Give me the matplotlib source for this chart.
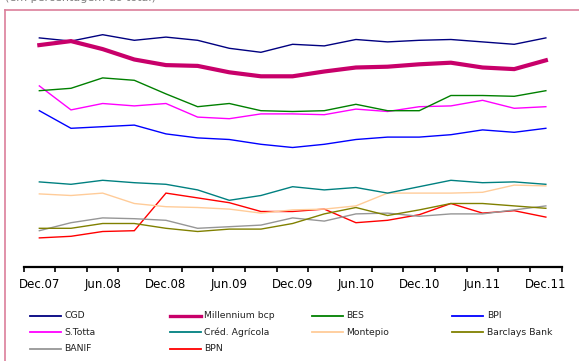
import numpy as np
import matplotlib
matplotlib.use("Agg")
import matplotlib.pyplot as plt
from matplotlib.lines import Line2D

quarters = ["Dec.07", "Mar.08", "Jun.08", "Sep.08", "Dec.08", "Mar.09", "Jun.09", "Sep.09",
            "Dec.09", "Mar.10", "Jun.10", "Sep.10", "Dec.10", "Mar.11", "Jun.11", "Sep.11", "Dec.11"]

cgd = [28.6, 28.2, 29.0, 28.3, 28.7, 28.3, 27.3, 26.8, 27.8, 27.6, 28.4, 28.1, 28.3, 28.4, 28.1, 27.8, 28.6]
millennium = [27.7, 28.2, 27.2, 25.9, 25.2, 25.1, 24.3, 23.8, 23.8, 24.4, 24.9, 25.0, 25.3, 25.5, 24.9, 24.7, 25.8]
bes = [22.0, 22.3, 23.6, 23.3, 21.6, 20.0, 20.4, 19.5, 19.4, 19.5, 20.3, 19.5, 19.5, 21.4, 21.4, 21.3, 22.0]
bpi = [19.5, 17.3, 17.5, 17.7, 16.6, 16.1, 15.9, 15.3, 14.9, 15.3, 15.9, 16.2, 16.2, 16.5, 17.1, 16.8, 17.3]
stotta = [22.6, 19.6, 20.4, 20.1, 20.4, 18.7, 18.5, 19.1, 19.1, 19.0, 19.7, 19.4, 20.0, 20.1, 20.8, 19.8, 20.0]
cred_agricola = [10.6, 10.3, 10.8, 10.5, 10.3, 9.6, 8.3, 8.9, 10.0, 9.6, 9.9, 9.2, 10.0, 10.8, 10.5, 10.6, 10.3]
montepio = [9.1, 8.9, 9.2, 7.9, 7.5, 7.4, 7.2, 6.7, 7.1, 7.2, 7.6, 9.2, 9.2, 9.2, 9.3, 10.2, 10.1]
barclays = [4.8, 4.8, 5.4, 5.4, 4.8, 4.4, 4.7, 4.7, 5.4, 6.6, 7.4, 6.4, 7.1, 7.9, 7.9, 7.6, 7.3]
banif = [4.5, 5.5, 6.1, 6.0, 5.8, 4.8, 5.0, 5.2, 6.1, 5.7, 6.6, 6.7, 6.3, 6.6, 6.6, 7.1, 7.6]
bpn = [3.6, 3.8, 4.4, 4.5, 9.2, 8.6, 8.0, 6.9, 6.9, 7.2, 5.5, 5.8, 6.5, 7.9, 6.7, 7.0, 6.2]

names = ["CGD", "Millennium bcp", "BES", "BPI", "S.Totta", "Créd. Agrícola",
         "Montepio", "Barclays Bank", "BANIF", "BPN"]
series = [cgd, millennium, bes, bpi, stotta, cred_agricola, montepio, barclays, banif, bpn]
colors = ["#000080", "#C8006A", "#008000", "#0000FF", "#FF00FF", "#008080",
          "#FFCC99", "#808000", "#969696", "#FF0000"]
widths = [1.0, 3.0, 1.0, 1.0, 1.0, 1.0, 1.0, 1.0, 1.0, 1.0]

W, H = 579, 361
fig = plt.figure(figsize=(W / 100, H / 100), dpi=100)
plt.rcParams['font.family'] = ['DejaVu Sans']

# frame (only the top and left edges fall inside the picture)
frame_col = "#DB7F9B"
fx, fy = 4.7 / W, 1 - 10.3 / H
fig.add_artist(Line2D([fx, fx], [0, fy], transform=fig.transFigure, color=frame_col, linewidth=1.2))
fig.add_artist(Line2D([fx, 1.0], [fy, fy], transform=fig.transFigure, color=frame_col, linewidth=1.2))
fig.text(5 / W, 1 - 0.8 / H, "(em percentagem do total)", color="#808080", fontsize=8,
         va="baseline", ha="left")

ax = fig.add_axes([23.5 / W, (H - 266.7) / H, (561.7 - 23.5) / W, 240 / H])
x = np.arange(len(quarters))
order = [9, 8, 7, 6, 5, 4, 3, 2, 0, 1]
for i in order:
    ax.plot(x, series[i], color=colors[i], linewidth=widths[i], solid_joinstyle="miter",
            zorder=3 if i == 1 else 2)

ax.set_xlim(-0.5, len(quarters) - 0.5)
ax.set_ylim(0, 30)
ax.set_yticks([])
for s in ["top", "right", "left"]:
    ax.spines[s].set_visible(False)
ax.spines["bottom"].set_linewidth(1.6)
ax.spines["bottom"].set_color("black")
ax.set_xticks(x[::2])
ax.set_xticklabels(quarters[::2], fontsize=8.5)
ax.set_xticks(np.arange(-0.5, len(quarters), 1), minor=True)
ax.tick_params(axis="x", which="major", length=0, pad=8)
ax.tick_params(axis="x", which="minor", length=3.5, width=1.2, direction="out")
ax.patch.set_alpha(0)

# legend (row-major, 4 columns)
col_x = [30, 170, 311.7, 452.3]
row_y = [315.7, 332.3, 348.7]
for k, (nm, c, lw) in enumerate(zip(names, colors, widths)):
    r, cix = divmod(k, 4)
    x0 = col_x[cix]
    y0 = row_y[r]
    fig.add_artist(Line2D([x0 / W, (x0 + 31) / W], [1 - y0 / H, 1 - y0 / H],
                          transform=fig.transFigure, color=c, linewidth=2.4 if lw > 1 else 1.3))
    fig.text((x0 + 34.5) / W, 1 - y0 / H, nm, fontsize=6.7, va="center", ha="left", color="#222222")

fig.savefig("out.png", dpi=100)
